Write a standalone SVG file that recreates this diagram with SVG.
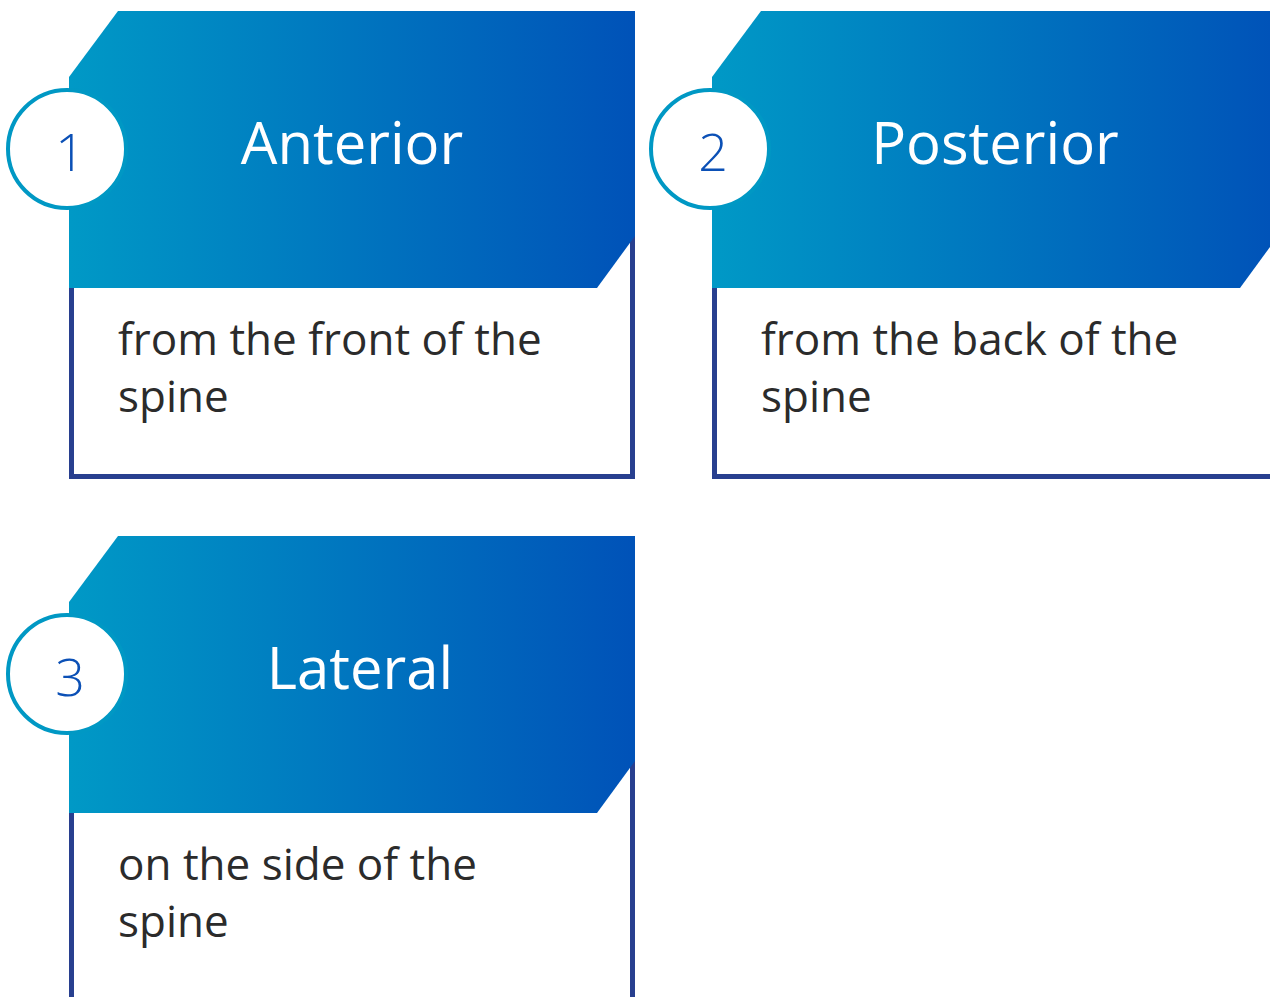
<svg xmlns="http://www.w3.org/2000/svg" width="1270" height="997" viewBox="0 0 1270 997">
  <defs>
    <linearGradient id="hdr" x1="0" y1="0" x2="1" y2="0">
      <stop offset="0" stop-color="#0099c6"/>
      <stop offset="1" stop-color="#0052b8"/>
    </linearGradient>
    <!-- one card: header tab, body outline, number badge -->
    <g id="cardShape">
      <path d="M71.5 288 V476.5 H632.5 V236" fill="none" stroke="#283f8f" stroke-width="5"/>
      <path d="M118 11 H635 V236 L597 288 H69 V77 Z" fill="url(#hdr)"/>
      <circle cx="67" cy="149" r="59" fill="#ffffff" stroke="#0098c4" stroke-width="4"/>
    </g>
  </defs>
  <style>
    .title { font-family: "Open Sans", "Noto Sans", sans-serif; font-size: 58px; fill: #ffffff; text-anchor: middle; }
    .num { font-family: "Open Sans", "Noto Sans", sans-serif; font-weight: 300; font-size: 52px; fill: #0b50b6; text-anchor: middle; }
    .body { font-family: "Open Sans", "Noto Sans", sans-serif; font-size: 44px; fill: #2b2b2b; }
  </style>
  <rect width="1270" height="997" fill="#ffffff"/>

  <g id="card-anterior">
    <use href="#cardShape"/>
    <text class="num" x="70" y="171">1</text>
    <text class="title" x="352" y="164">Anterior</text>
    <text class="body" x="118" y="355">from the front of the</text>
    <text class="body" x="118" y="412">spine</text>
  </g>

  <g id="card-posterior" transform="translate(643 0)">
    <use href="#cardShape"/>
    <text class="num" x="70" y="171">2</text>
    <text class="title" x="352" y="164">Posterior</text>
    <text class="body" x="118" y="355">from the back of the</text>
    <text class="body" x="118" y="412">spine</text>
  </g>

  <g id="card-lateral" transform="translate(0 525)">
    <use href="#cardShape"/>
    <text class="num" x="70" y="171">3</text>
    <text class="title" x="360" y="164">Lateral</text>
    <text class="body" x="118" y="355">on the side of the</text>
    <text class="body" x="118" y="412">spine</text>
  </g>

  <g id="connectors"/>
</svg>
